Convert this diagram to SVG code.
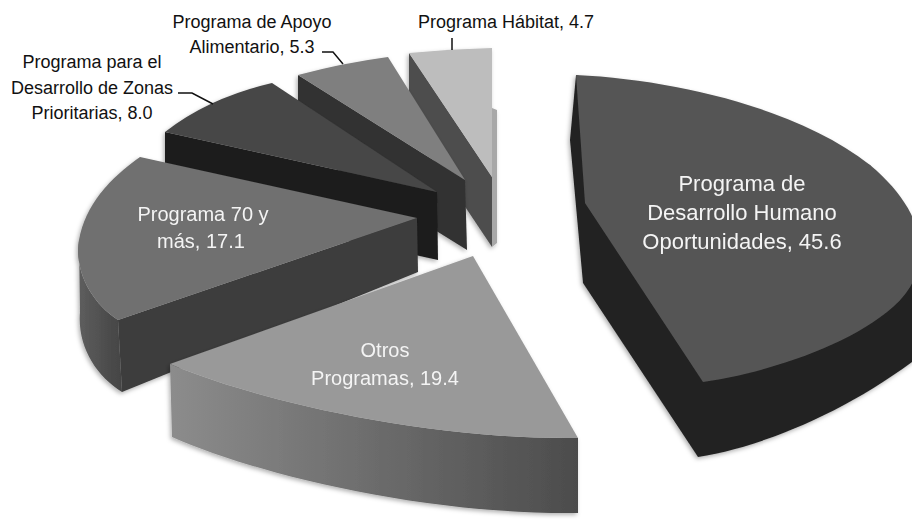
<svg xmlns="http://www.w3.org/2000/svg" width="912" height="523" viewBox="0 0 912 523">
<defs>
<style>
text{font-family:"Liberation Sans",Arial,sans-serif}
.out{font-size:18px;fill:#111;text-anchor:middle}
.in{font-size:20px;fill:#f4f4f4;text-anchor:middle}
.big{font-size:22px}
.lead{fill:none;stroke:#111;stroke-width:1.5}
</style>
<linearGradient id="gOtros" x1="0" x2="1" y1="0" y2="0"><stop offset="0" stop-color="#8c8c8c"/><stop offset="1" stop-color="#4c4c4c"/></linearGradient>
<linearGradient id="g70" x1="0" x2="1" y1="0" y2="0"><stop offset="0" stop-color="#5e5e5e"/><stop offset="1" stop-color="#444"/></linearGradient>
<filter id="sh" x="-10%" y="-10%" width="120%" height="120%"><feDropShadow dx="-1.5" dy="2" stdDeviation="2" flood-color="#000" flood-opacity="0.3"/></filter>
</defs>
<rect width="912" height="523" fill="#fff"/>
<g id="habitat" filter="url(#sh)">
<path d="M409,53 L492,177 L492,247 L409,123 Z" fill="#4e4e4e"/>
<path d="M492,108 L497,110 L497,243 L492,247 Z" fill="#a8a8a8"/>
<path d="M409,53 Q450,49 492,48 L492,177 Z" fill="#bdbdbd"/>
</g>
<g id="apoyo" filter="url(#sh)">
<path d="M298,75 L465,180 L467,250 L298,145 Z" fill="#333"/>
<path d="M298,75 Q343,63 388,57 L465,180 Z" fill="#7f7f7f"/>
</g>
<g id="zonas" filter="url(#sh)">
<path d="M165,132 L437,192 L438,260 L165,200 Z" fill="#1d1d1d"/>
<path d="M165,132 Q208,98 272,83 L437,192 Z" fill="#464646"/>
</g>
<g id="oportunidades" filter="url(#sh)">
<path d="M576,75 L570,140 L583,283 L698,457 C760,447 840,415 912,362 L930,345 L930,250 L870,165 Z" fill="#232323"/>
<path d="M576,75 C680,80 800,110 870,165 C930,215 935,270 893,307 C850,345 770,372 703,382 L585,203 Z" fill="#555"/>
<text class="in big" x="742" y="191">Programa de</text>
<text class="in big" x="742" y="220">Desarrollo Humano</text>
<text class="in big" x="742" y="249">Oportunidades, 45.6</text>
</g>
<g id="p70" filter="url(#sh)">
<path d="M79,240 C74,272 92,303 118,320 L122,392 C96,376 77,346 80,312 Z" fill="url(#g70)"/>
<path d="M118,320 L417,218 L418,272 L122,392 Z" fill="#3c3c3c"/>
<path d="M140,157 L417,218 L118,320 C92,303 74,272 79,240 C85,205 110,178 140,157 Z" fill="#6f6f6f"/>
<text class="in" x="203" y="221">Programa 70 y</text>
<text class="in" x="201" y="248">más, 17.1</text>
</g>
<g id="otros" filter="url(#sh)">
<path d="M170,364 C250,398 420,440 578,438 L578,513 C420,515 250,472 172,437 Z" fill="url(#gOtros)"/>
<path d="M473,256 L578,438 C420,440 250,398 170,364 Z" fill="#999"/>
<text class="in" x="385" y="357">Otros</text>
<text class="in" x="385" y="385">Programas, 19.4</text>
</g>
<g id="labels">
<text class="out" x="506" y="28">Programa Hábitat, 4.7</text>
<text class="out" x="252" y="28">Programa de Apoyo</text>
<text class="out" x="252" y="53">Alimentario, 5.3</text>
<text class="out" x="92" y="68">Programa para el</text>
<text class="out" x="92" y="94">Desarrollo de Zonas</text>
<text class="out" x="92" y="119">Prioritarias, 8.0</text>
</g>
<g id="connectors">
<path class="lead" d="M452,38 V50"/>
<path class="lead" d="M322,52 H333 L343,64"/>
<path class="lead" d="M178,93 H192 L213,104"/>
</g>
</svg>
